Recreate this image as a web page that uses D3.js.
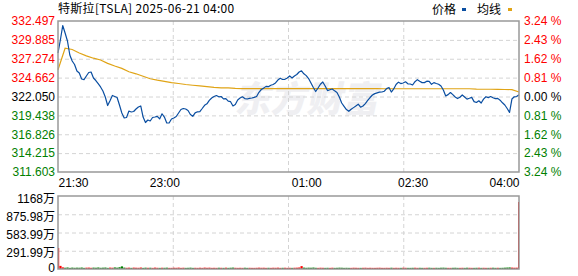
<!DOCTYPE html>
<html>
<head>
<meta charset="utf-8">
<script src="https://cdn.jsdelivr.net/npm/d3@7"></script>
<style>
  body { margin: 0; background: #fff; }
  svg { display: block; }
  text { font-family: "Liberation Sans", Arial, sans-serif; font-size: 12px; }
</style>
</head>
<body>
<div id="chart"></div>
<script>
/* intraday price + volume chart */

const title = "特斯拉[TSLA] 2025-06-21 04:00";
const legendNames = ["价格", "均线"];
const timeLabels = ["21:30", "23:00", "01:00", "02:30", "04:00"];
const timeMinutes = [0, 90, 210, 300, 390];
const prevClose = 322.05;
const priceTicks = [332.497, 329.885, 327.274, 324.662, 322.050, 319.438, 316.826, 314.215, 311.603];
const priceTickLabels = ["332.497", "329.885", "327.274", "324.662", "322.050", "319.438", "316.826", "314.215", "311.603"];
const pctTickLabels = ["3.24 %", "2.43 %", "1.62 %", "0.81 %", "0.00 %", "0.81 %", "1.62 %", "2.43 %", "3.24 %"];
const volTicks = [1168, 875.98, 583.99, 291.99, 0];
const volTickLabels = ["1168万", "875.98万", "583.99万", "291.99万", "0"];

// price every 2 minutes from 21:30
const prices = [
  328.07, 329.87, 331.87, 330.84, 329.73, 327.79, 326.96, 326.48, 325.58, 325.30,
  324.47, 324.38, 324.89, 325.37, 325.44, 324.61, 324.26, 323.82, 323.37, 322.81,
  321.98, 320.80, 321.47, 322.19, 322.05, 321.91, 320.87, 319.77, 319.08, 319.14,
  320.04, 319.91, 319.97, 320.32, 320.60, 320.74, 319.21, 318.45, 318.80, 318.66,
  319.14, 319.21, 319.31, 318.94, 319.66, 319.21, 318.38, 318.38, 318.94, 319.08,
  319.28, 319.77, 320.25, 320.39, 320.32, 320.11, 319.56, 319.31, 319.79, 319.93,
  319.97, 320.39, 320.83, 321.04, 321.52, 321.84, 322.05, 322.19, 322.01, 322.05,
  321.73, 321.75, 321.40, 321.33, 320.74, 320.94, 321.57, 321.84, 322.01, 321.76,
  321.70, 321.79, 321.84, 321.93, 322.05, 322.63, 323.02, 323.21, 323.45, 323.41,
  323.60, 323.71, 323.92, 324.33, 324.58, 324.40, 324.43, 324.61, 324.91, 324.61,
  324.89, 325.09, 325.44, 325.61, 325.19, 324.94, 324.54, 323.92, 323.30, 322.74,
  323.23, 323.74, 324.06, 323.50, 322.87, 322.98, 323.09, 322.83, 322.60, 321.98,
  321.15, 320.69, 320.24, 320.00, 320.28, 320.51, 320.74, 320.98, 320.57, 320.74,
  321.07, 321.50, 321.91, 322.26, 322.45, 322.56, 322.65, 322.67, 322.78, 323.14,
  323.30, 322.67, 323.09, 323.71, 324.03, 323.84, 323.92, 324.08, 323.81, 323.78,
  323.64, 324.10, 324.38, 324.17, 323.97, 323.97, 324.17, 324.15, 323.74, 323.97,
  323.85, 323.75, 323.50, 322.95, 322.12, 322.31, 322.60, 322.31, 321.98, 321.76,
  321.94, 322.26, 321.98, 321.68, 321.80, 321.93, 321.34, 321.22, 321.46, 321.15,
  321.68, 322.01, 321.90, 322.04, 321.87, 321.75, 321.79, 321.54, 321.18, 320.87,
  320.39, 319.84, 321.70, 322.01, 322.05, 322.30
];

// average price every 6 minutes
const avgPrices = [
  325.76, 328.73, 328.55, 328.07, 327.68, 327.35, 327.10, 326.64, 326.27, 325.94,
  325.47, 325.19, 324.85, 324.51, 324.31, 324.14, 323.97, 323.85, 323.71, 323.61,
  323.52, 323.42, 323.32, 323.25, 323.23, 323.17, 323.15, 323.15, 323.15, 323.15,
  323.15, 323.13, 323.13, 323.13, 323.13, 323.13, 323.13, 323.13, 323.13, 323.13,
  323.13, 323.13, 323.13, 323.13, 323.13, 323.13, 323.12, 323.12, 323.12, 323.12,
  323.12, 323.12, 323.12, 323.12, 323.12, 323.12, 323.12, 323.12, 323.12, 323.06,
  323.05, 323.05, 323.03, 323.02, 323.01, 322.67
];

// volume (万) every 2 minutes
const volumes = [
  336, 50,
  26, 20, 24, 18, 22, 19, 21, 20, 23, 18, 21, 22, 19, 22,
  20, 24, 19, 21, 23, 18, 22, 20, 25, 21, 28, 42, 22, 19,
  21, 18, 22, 20, 19, 23, 18, 21, 19, 20, 18, 22, 19, 18,
  20, 19, 21, 18, 18, 20, 19, 22, 18, 20, 18, 19, 21, 18,
  19, 18, 20, 18, 22, 19, 21, 18, 19, 18, 20, 19, 18, 21,
  18, 20, 22, 19, 18, 19, 18, 20, 18, 19, 18, 18, 19, 21,
  19, 20, 18, 19, 18, 20, 19, 21, 18, 19, 20, 18, 19, 18,
  20, 21, 24, 46, 22, 19, 21, 20, 23, 19, 18, 20, 19, 18,
  19, 18, 20, 18, 19, 21, 20, 18, 19, 18, 18, 20, 19, 18,
  18, 19, 20, 18, 19, 18, 18, 19, 20, 18, 18, 19, 18, 20,
  18, 19, 18, 18, 20, 19, 18, 18, 19, 20, 18, 19, 18, 18,
  19, 20, 18, 18, 19, 18, 20, 21, 19, 18, 18, 19, 20, 18,
  18, 19, 18, 20, 19, 18, 18, 19, 20, 18, 19, 18, 18, 19,
  20, 18, 19, 18, 19, 21, 23, 25, 22, 20, 21, 1072
];

const width = 578, height = 276;
const plot = { left: 58, right: 519, top: 21, bottom: 172 };
const volBox = { top: 196, bottom: 269 };

const red = "#ff0000", green = "#008000", blue = "#0a4ea1", gold = "#e0a416";

const svg = d3.select("#chart")
  .append("svg")
  .attr("width", width)
  .attr("height", height);

let x = d3.scaleLinear().domain([0, 390]).range([plot.left, plot.right]);
let y = d3.scaleLinear().domain([311.603, 332.497]).range([plot.bottom, plot.top]);
let yv = d3.scaleLinear().domain([0, 1168]).range([volBox.bottom, volBox.top]);

const priceData = prices.map((p, i) => ({ m: i * 2, p }));
const avgData = avgPrices.map((p, i) => ({ m: i * 6, p }));

// watermark
svg.append("text")
  .attr("x", 236)
  .attr("y", 112)
  .attr("transform", "skewX(-12) translate(22,0)")
  .style("font-family", "'Noto Sans CJK SC'")
  .style("font-size", "36px")
  .style("font-weight", 900)
  .attr("fill", "#efeff2")
  .text("东方财富");

// grid lines (quarters vertically)
const quarter = [97.5, 195, 292.5];
function vgrid(top, bottom) {
  svg.append("g")
    .selectAll("line")
    .data(quarter)
    .join("line")
    .attr("x1", d => x(d)).attr("x2", d => x(d))
    .attr("y1", top).attr("y2", bottom)
    .attr("stroke", "#d4d4d4")
    .attr("stroke-dasharray", "4,3");
}
vgrid(plot.top, plot.bottom);
vgrid(volBox.top, volBox.bottom);

svg.append("g")
  .attr("transform", `translate(${plot.left},0)`)
  .call(d3.axisLeft(y).tickValues(priceTicks.slice(1, -1)).tickFormat("")
    .tickSize(-(plot.right - plot.left)).tickSizeOuter(0))
  .call(g => g.select(".domain").remove())
  .call(g => g.selectAll("line").attr("stroke", "#d4d4d4").attr("stroke-dasharray", "4,3"));

svg.append("g")
  .attr("transform", `translate(${plot.left},0)`)
  .call(d3.axisLeft(yv).tickValues(volTicks.slice(1, -1)).tickFormat("")
    .tickSize(-(plot.right - plot.left)).tickSizeOuter(0))
  .call(g => g.select(".domain").remove())
  .call(g => g.selectAll("line").attr("stroke", "#d4d4d4").attr("stroke-dasharray", "4,3"));

// price axes labels
const tickColor = d => d > prevClose + 0.001 ? red : (d < prevClose - 0.001 ? green : "#000");

svg.append("g")
  .attr("transform", `translate(${plot.left},0)`)
  .call(d3.axisLeft(y).tickValues(priceTicks).tickSize(0).tickPadding(3)
    .tickFormat((d, i) => priceTickLabels[i]))
  .call(g => g.select(".domain").remove())
  .call(g => g.selectAll("text")
    .style("font-family", "'Liberation Sans', Arial, sans-serif")
    .style("font-size", "12px")
    .attr("fill", d => tickColor(d)));

svg.append("g")
  .attr("transform", `translate(${plot.right},0)`)
  .call(d3.axisRight(y).tickValues(priceTicks).tickSize(0).tickPadding(5)
    .tickFormat((d, i) => pctTickLabels[i]))
  .call(g => g.select(".domain").remove())
  .call(g => g.selectAll("text")
    .style("font-family", "'Liberation Sans', Arial, sans-serif")
    .style("font-size", "12px")
    .attr("fill", d => tickColor(d)));

// time axis
svg.append("g")
  .attr("transform", `translate(0,${plot.bottom})`)
  .call(d3.axisBottom(x).tickValues(timeMinutes).tickSize(0).tickPadding(6)
    .tickFormat((d, i) => timeLabels[i]))
  .call(g => g.select(".domain").remove())
  .call(g => g.selectAll("text")
    .style("font-family", "'Liberation Sans', Arial, sans-serif")
    .style("font-size", "12px")
    .attr("fill", "#000")
    .attr("text-anchor", (d, i) => i === 0 ? "start" : (i === timeMinutes.length - 1 ? "end" : "middle")));

// volume axis labels
svg.append("g")
  .attr("transform", `translate(${plot.left},0)`)
  .call(d3.axisLeft(yv).tickValues(volTicks).tickSize(0).tickPadding(3)
    .tickFormat((d, i) => volTickLabels[i]))
  .call(g => g.select(".domain").remove())
  .call(g => g.selectAll("text")
    .style("font-family", "'Liberation Sans', 'Noto Sans CJK SC', sans-serif")
    .style("font-size", "12px")
    .attr("dy", d => d === 0 ? "0.2em" : "0.5em")
    .attr("fill", "#000"));

// volume bars
svg.append("g")
  .selectAll("rect")
  .data(volumes)
  .join("rect")
  .attr("x", (d, i) => Math.max(plot.left, x(i * 2) - 1))
  .attr("width", (d, i) => Math.min(plot.right, x(i * 2) + 1.2) - Math.max(plot.left, x(i * 2) - 1))
  .attr("y", d => yv(d))
  .attr("height", d => yv(0) - yv(d))
  .attr("fill", (d, i) => i === 0 || prices[i] >= prices[i - 1] ? red : green);

// lines
const line = d3.line()
  .x(d => x(d.m))
  .y(d => y(d.p));

svg.append("path")
  .datum(avgData)
  .attr("d", line)
  .attr("fill", "none")
  .attr("stroke", gold)
  .attr("stroke-width", 1.2);

svg.append("path")
  .datum(priceData)
  .attr("d", line)
  .attr("fill", "none")
  .attr("stroke", blue)
  .attr("stroke-width", 1.2)
  .attr("stroke-linejoin", "round");

// frames
svg.append("rect")
  .attr("x", plot.left).attr("y", plot.top)
  .attr("width", plot.right - plot.left).attr("height", plot.bottom - plot.top)
  .attr("fill", "none").attr("stroke", "#999").attr("stroke-width", 1.5);

svg.append("rect")
  .attr("x", plot.left).attr("y", volBox.top)
  .attr("width", plot.right - plot.left).attr("height", volBox.bottom - volBox.top)
  .attr("fill", "none").attr("stroke", "#999").attr("stroke-width", 1.5);

// title and legend
svg.append("text")
  .attr("x", plot.left)
  .attr("y", 13)
  .style("font-family", "'Noto Sans CJK SC', sans-serif")
  .style("font-size", "12px")
  .style("letter-spacing", "0.3px")
  .text(title);

const legend = svg.append("g");
legend.append("text").attr("x", 432).attr("y", 14)
  .style("font-family", "'Noto Sans CJK SC', sans-serif").text(legendNames[0]);
legend.append("rect").attr("x", 462).attr("y", 8).attr("width", 4).attr("height", 3).attr("fill", blue);
legend.append("text").attr("x", 477).attr("y", 14)
  .style("font-family", "'Noto Sans CJK SC', sans-serif").text(legendNames[1]);
legend.append("rect").attr("x", 508).attr("y", 8).attr("width", 4).attr("height", 3).attr("fill", gold);
</script>
</body>
</html>
